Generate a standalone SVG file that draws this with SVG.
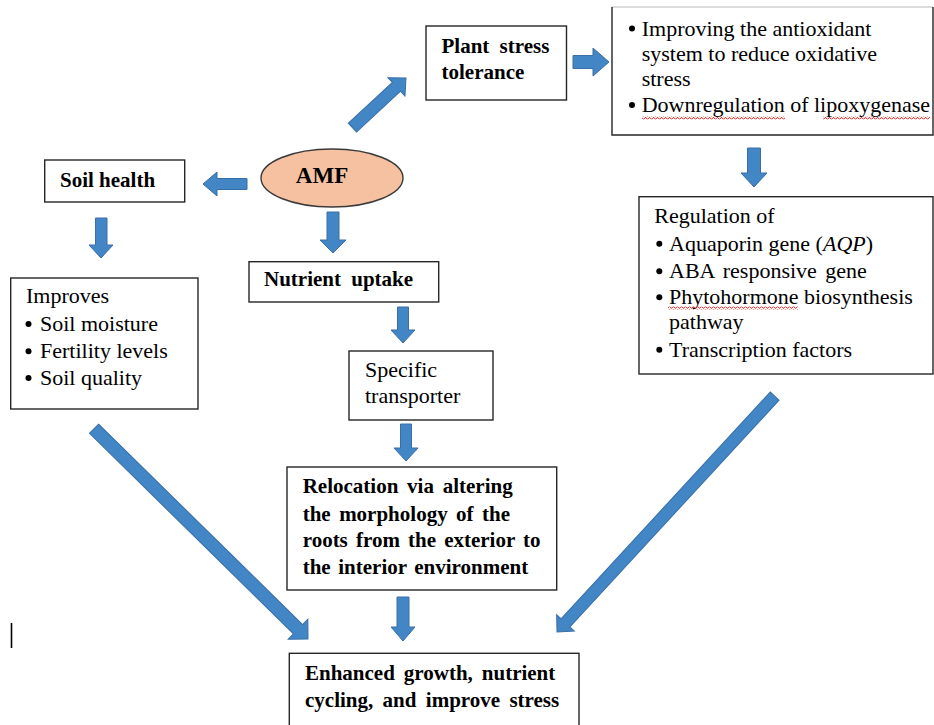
<svg xmlns="http://www.w3.org/2000/svg" width="934" height="725" viewBox="0 0 934 725">
<style>
.box{fill:#fff;stroke:#262626;stroke-width:1.4}
.b{font-family:"Liberation Serif","Times New Roman",serif;font-weight:bold;font-size:21px;fill:#000}
.r{font-family:"Liberation Serif","Times New Roman",serif;font-size:22px;fill:#000}
.arr{fill:#4286c6;stroke:#3a6ea6;stroke-width:1}
.bul{fill:#000}
.wavy{fill:url(#wv)}
</style>
<defs>
<pattern id="wv" x="0" y="0" width="4" height="3" patternUnits="userSpaceOnUse">
<path d="M0,2.2 L1,0.6 L2,0.6 L3,2.2 L4,2.2" fill="none" stroke="#e02020" stroke-width="0.9"/>
</pattern>
</defs>
<rect width="934" height="725" fill="#fff"/>

<g id="connectors">
<!-- AMF -> Plant stress tolerance -->
<polygon class="arr" transform="translate(406,78) rotate(-42.8)" points="-73,-6 -13,-6 -13,-12.5 0,0 -13,12.5 -13,6 -73,6"/>
<!-- Plant stress tolerance -> antioxidant box -->
<polygon class="arr" points="573,55.5 593,55.5 593,48 609,62 593,76 593,68.5 573,68.5"/>
<!-- AMF -> Soil health -->
<polygon class="arr" points="247,178.5 217,178.5 217,172 203,184 217,196 217,189.5 247,189.5"/>
<!-- Soil health -> Improves -->
<polygon class="arr" points="95.5,218 107,218 107,245 113,245 101,258 89,245 95.5,245"/>
<!-- AMF -> Nutrient uptake -->
<polygon class="arr" points="327,212 339,212 339,240 346,240 333,253 320,240 327,240"/>
<!-- antioxidant box -> Regulation -->
<polygon class="arr" points="747.5,148 760.5,148 760.5,173 767,173 754,187 741,173 747.5,173"/>
<!-- Nutrient uptake -> Specific transporter -->
<polygon class="arr" points="397.5,307 408.5,307 408.5,330 415,330 403,343 391,330 397.5,330"/>
<!-- Specific transporter -> Relocation -->
<polygon class="arr" points="400.5,424 411.5,424 411.5,448 418,448 406,461 394,448 400.5,448"/>
<!-- Relocation -> Enhanced -->
<polygon class="arr" points="397,597 409,597 409,627 415,627 403,641 391,627 397,627"/>
<!-- Improves -> Enhanced -->
<polygon class="arr" transform="translate(308,639) rotate(44.5)" points="-300,-6.5 -14,-6.5 -14,-14 0,0 -14,14 -14,6.5 -300,6.5"/>
<!-- Regulation -> Enhanced -->
<polygon class="arr" transform="translate(557,632) rotate(132.7)" points="-321,-6 -12.5,-6 -12.5,-12 0,0 -12.5,12 -12.5,6 -321,6"/>
</g>

<g id="amf">
<ellipse cx="332" cy="178" rx="71" ry="29" fill="#f5c1a0" stroke="#3a3a3a" stroke-width="1.4"/>
<text class="b" x="322" y="183" text-anchor="middle" style="font-size:23px">AMF</text>
</g>

<g id="plant-stress-tolerance">
<rect class="box" x="426" y="26" width="140.5" height="74"/>
<text class="b" x="441.5" y="53" word-spacing="5">Plant stress</text>
<text class="b" x="441.5" y="79">tolerance</text>
</g>

<g id="antioxidant">
<rect x="612" y="7" width="321" height="128" fill="#fff" stroke="none"/>
<path d="M612,7 H933" fill="none" stroke="#d0d0d0" stroke-width="1.4"/>
<path d="M612,7 V135 H933 V7" fill="none" stroke="#262626" stroke-width="1.4"/>
<circle class="bul" cx="632" cy="28.5" r="3"/>
<text class="r" x="641.7" y="35.7">Improving the antioxidant</text>
<text class="r" x="641.7" y="61">system to reduce oxidative</text>
<text class="r" x="641.7" y="85.7">stress</text>
<circle class="bul" cx="632" cy="105" r="3"/>
<text class="r" x="641.7" y="112.3">Downregulation of lipoxygenase</text>
<rect class="wavy" x="642" y="116.5" width="143" height="3"/>
<rect class="wavy" x="823" y="116.5" width="107" height="3"/>
</g>

<g id="soil-health">
<rect class="box" x="44.7" y="160" width="140" height="42"/>
<text class="b" x="60" y="186.7">Soil health</text>
</g>

<g id="improves">
<rect class="box" x="10.7" y="278" width="187.3" height="131"/>
<text class="r" x="26" y="303.3">Improves</text>
<circle class="bul" cx="28.5" cy="324" r="3"/>
<text class="r" x="40" y="331">Soil moisture</text>
<circle class="bul" cx="28.5" cy="351.3" r="3"/>
<text class="r" x="40" y="358.3">Fertility levels</text>
<circle class="bul" cx="28.5" cy="378" r="3"/>
<text class="r" x="40" y="385">Soil quality</text>
</g>

<g id="nutrient-uptake">
<rect class="box" x="249" y="261.7" width="189.7" height="40.3"/>
<text class="b" x="264" y="286" word-spacing="5">Nutrient uptake</text>
</g>

<g id="specific-transporter">
<rect class="box" x="349" y="351" width="144" height="69"/>
<text class="r" x="365" y="376.7">Specific</text>
<text class="r" x="365" y="403.3">transporter</text>
</g>

<g id="regulation">
<rect class="box" x="639" y="196.7" width="294" height="177.3"/>
<text class="r" x="654.3" y="223.3">Regulation of</text>
<circle class="bul" cx="659.3" cy="243.7" r="3"/>
<text class="r" x="669" y="250.7">Aquaporin gene (<tspan font-style="italic">AQP</tspan>)</text>
<circle class="bul" cx="659.3" cy="271.3" r="3"/>
<text class="r" x="669" y="278.3" word-spacing="3">ABA responsive gene</text>
<circle class="bul" cx="659.3" cy="297.3" r="3"/>
<text class="r" x="669" y="304.3">Phytohormone biosynthesis</text>
<rect class="wavy" x="668" y="306.5" width="130" height="3"/>
<text class="r" x="669" y="329.3">pathway</text>
<circle class="bul" cx="659.3" cy="349.7" r="3"/>
<text class="r" x="669" y="356.7">Transcription factors</text>
</g>

<g id="relocation">
<rect class="box" x="287" y="467" width="269.7" height="123"/>
<text class="b" x="302.7" y="493.3" word-spacing="3.5">Relocation via altering</text>
<text class="b" x="302.7" y="520.7" word-spacing="3.2">the morphology of the</text>
<text class="b" x="302.7" y="547.3" word-spacing="2.9">roots from the exterior to</text>
<text class="b" x="302.7" y="574.3" word-spacing="2.3">the interior environment</text>
</g>

<g id="enhanced">
<rect class="box" x="289.3" y="653.3" width="289.7" height="80"/>
<text class="b" x="305" y="680" word-spacing="3.7">Enhanced growth, nutrient</text>
<text class="b" x="305" y="706.7" word-spacing="4.1">cycling, and improve stress</text>
</g>

<line x1="11.5" y1="623" x2="11.5" y2="648" stroke="#000" stroke-width="1.6"/>
</svg>
